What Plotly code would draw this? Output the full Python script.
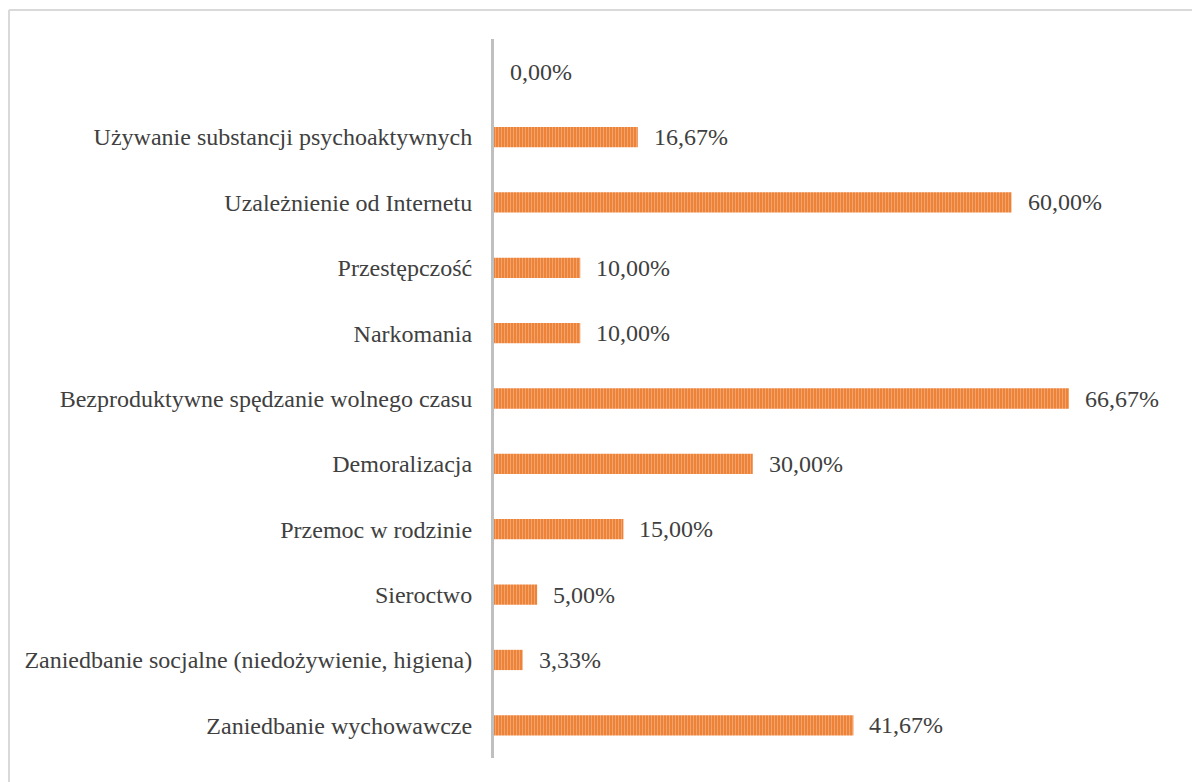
import plotly.graph_objects as go

categories = [
    "Zaniedbanie wychowawcze",
    "Zaniedbanie socjalne (niedożywienie, higiena)",
    "Sieroctwo",
    "Przemoc w rodzinie",
    "Demoralizacja",
    "Bezproduktywne spędzanie wolnego czasu",
    "Narkomania",
    "Przestępczość",
    "Uzależnienie od Internetu",
    "Używanie substancji psychoaktywnych",
    " ",
]
values = [41.67, 3.33, 5.00, 15.00, 30.00, 66.67, 10.00, 10.00, 60.00, 16.67, 0.00]
value_labels = [f"{v:.2f}".replace(".", ",") + "%" for v in values]

FONT = "Liberation Serif, Times New Roman, serif"
TXT = "#404040"
FS = 24

fig = go.Figure()
fig.add_trace(go.Bar(
    x=values, y=categories, orientation="h",
    marker=dict(
        color="#ED7D31",
        line=dict(width=0),
        pattern=dict(shape="|", fgcolor="#F8C9A8", bgcolor="#ED7D31", size=3, solidity=0.42, fillmode="overlay"),
    ),
    width=0.31,
    hoverinfo="skip",
))

for v, c, t in zip(values, categories, value_labels):
    fig.add_annotation(x=v, y=c, text=t, showarrow=False, xanchor="left", xshift=14,
                       font=dict(family=FONT, size=FS, color=TXT))

L, R, T, B = 486, 24, 31, 32
W, H = 1200, 782
pw = W - L - R
ph = H - T - B
# chart border (top and left visible)
fig.add_shape(type="line", xref="paper", yref="paper",
              x0=(1 - L) / pw, x1=(W + 5 - L) / pw, y0=(H - B - 2) / ph, y1=(H - B - 2) / ph,
              line=dict(color="#D9D9D9", width=2))
fig.add_shape(type="line", xref="paper", yref="paper",
              x0=(1 - L) / pw, x1=(1 - L) / pw, y0=(H - B - 2) / ph, y1=-(B + 5) / ph,
              line=dict(color="#D9D9D9", width=2))

fig.update_layout(
    width=W, height=H,
    margin=dict(l=L, r=R, t=T, b=B, pad=0),
    paper_bgcolor="white", plot_bgcolor="white",
    showlegend=False,
    font=dict(family=FONT, size=FS, color=TXT),
    xaxis=dict(range=[0, 80], visible=False, showgrid=False, zeroline=False),
    yaxis=dict(categoryorder="array", categoryarray=categories, showgrid=False, zeroline=False,
               showline=True, linecolor="#BFBFBF", linewidth=3, ticks="", ticklabelstandoff=14,
               tickfont=dict(family=FONT, size=FS, color=TXT)),
)

fig.write_html("out.html")
